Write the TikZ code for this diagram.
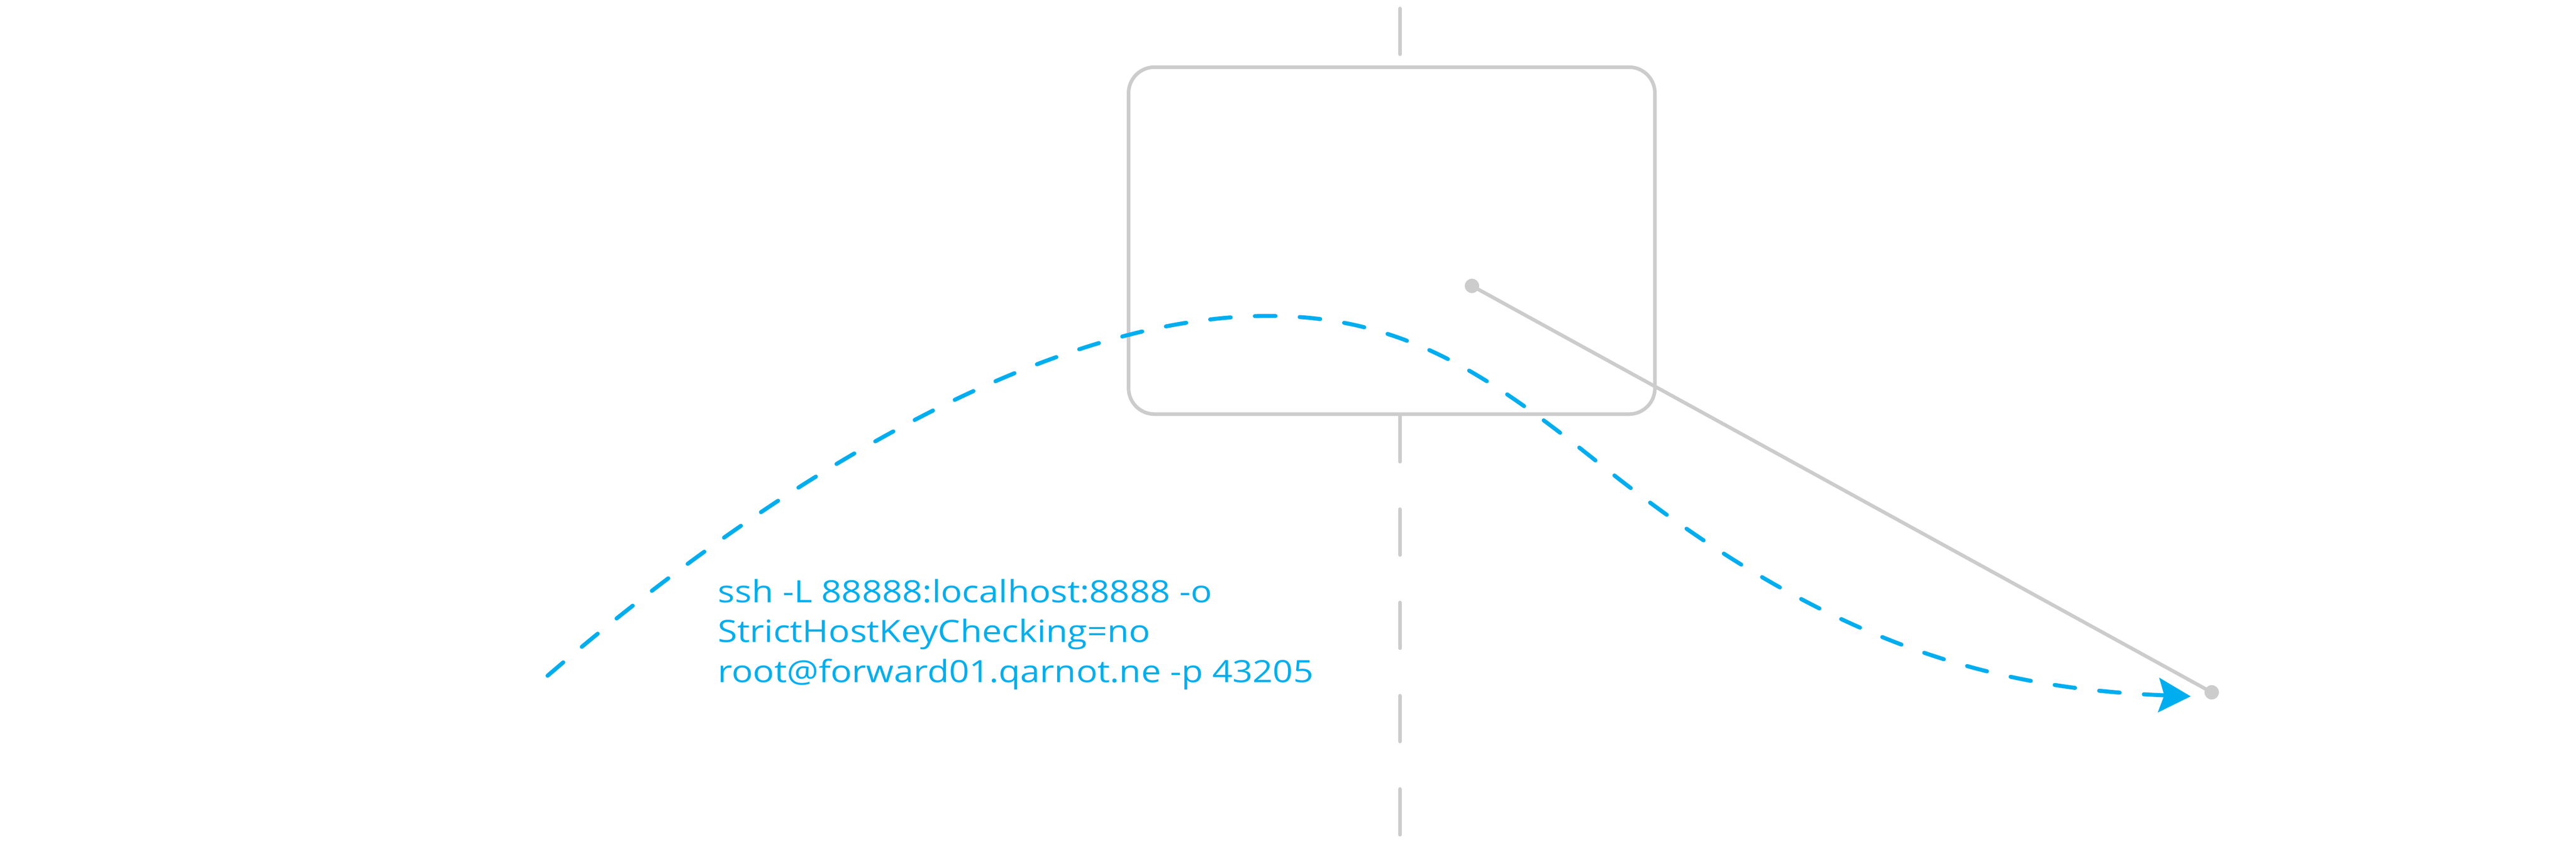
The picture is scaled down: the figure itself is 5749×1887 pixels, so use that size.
\documentclass[tikz,border=0pt]{standalone}
\usepackage{fontspec}
\newfontfamily\cmdfont[FakeStretch=1.15]{Open Sans}
\usetikzlibrary{arrows.meta}
\definecolor{sshblue}{HTML}{00AEEF}
\definecolor{wiregray}{HTML}{CCCCCC}

\begin{document}
\begin{tikzpicture}[x=0.01cm, y=-0.01cm,
	wire/.style={line width=0.08cm, draw=wiregray},
	axis/.style={wire, line cap=round, dash pattern=on 1.02cm off 1.06cm},
	dot/.style={circle, fill=wiregray, inner sep=0pt, minimum size=0.32cm},
	tunnel/.style={line width=0.09cm, draw=sshblue, line cap=round,
		dash pattern=on 0.46cm off 0.54cm}]
	\useasboundingbox (0,0) rectangle (5749,1887);

	% machine
	\node[wire, draw, rounded corners=0.58cm, minimum width=11.74cm,
		minimum height=7.74cm] (machine) at (3106,537) {};

	% axe
	\coordinate (axistop) at (3124,19);
	\coordinate (axisbot) at (3124,1887);
	\draw[axis] (axistop) -- (axistop |- machine.north);
	\draw[axis] (axistop |- machine.south) -- (axisbot);

	% ports
	\node[dot] (src) at (3285,638) {};
	\node[dot] (dst) at (4936,1545) {};
	\draw[wire] (src.center) -- (dst.center);

	% tunnel
	\coordinate (start) at (1222,1508);
	\coordinate (peak) at (2830,705);
	\coordinate (turn) at (3570,1035);
	\coordinate (tip) at (4889,1554);
	\draw[tunnel, -{Stealth[length=0.72cm, width=0.78cm, inset=0.13cm, fill=sshblue, line width=0pt]}]
		(start) .. controls +(500,-430) and +(-500,0) .. (peak)
		.. controls +(300,0) and +(-250,-200) .. (turn)
		.. controls +(500,400) and +(-450,-18) .. (tip);

	% commande
	\node[anchor=base west, align=left, text=sshblue, inner sep=0pt,
		font=\cmdfont\fontsize{19.5}{25.4}\selectfont] (cmd) at (1602,1523)
		{ssh -L 88888:localhost:8888 -o\\StrictHostKeyChecking=no\\root@forward01.qarnot.ne -p 43205};
\end{tikzpicture}
\end{document}
